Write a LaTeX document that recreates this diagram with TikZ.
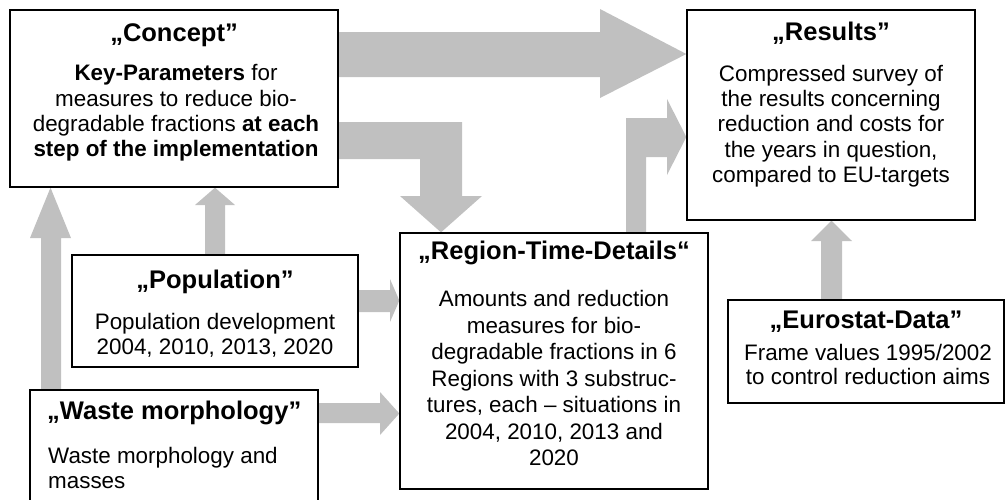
\documentclass[tikz,border=0pt]{standalone}
\usepackage{fontspec}
\setmainfont{Liberation Sans}
\usetikzlibrary{backgrounds}
\definecolor{arrowgrey}{HTML}{C0C0C0}
\begin{document}
\begin{tikzpicture}[x=1pt,y=-1pt,
  box/.style={draw=black, line width=1.3pt, fill=white, inner sep=0pt},
  blockarrow/.style={fill=arrowgrey},
  ttl/.style={font=\fontsize{25.5}{27}\selectfont\bfseries, inner sep=0pt},
  bodytext/.style={font=\fontsize{22.4}{25.3}\selectfont, align=center, inner sep=0pt}]
\useasboundingbox (0,0) rectangle (1006,499);
\clip (0,0) rectangle (1006,499);
% boxes
\node[box, minimum width=328pt, minimum height=177pt] (concept) at (174,98.5) {};
\node[box, minimum width=288pt, minimum height=210pt] (results) at (831,115) {};
\node[box, minimum width=286pt, minimum height=112pt] (population) at (215,311) {};
\node[box, minimum width=308pt, minimum height=256pt] (region) at (554,361) {};
\node[box, minimum width=276pt, minimum height=103pt] (eurostat) at (866,351.5) {};
\node[box, minimum width=288pt, minimum height=130pt] (waste) at (174,455) {};
% texts
\node[ttl] (conceptT) at (174,35) {„Concept”};
\node[bodytext] (conceptB) at (176,113) {\textbf{Key-Parameters} for\\measures to reduce bio-\\degradable fractions \textbf{at each}\\\textbf{step of the implementation}};
\node[ttl] (resultsT) at (831,33) {„Results”};
\node[bodytext] (resultsB) at (831,126) {Compressed survey of\\the results concerning\\reduction and costs for\\the years in question,\\compared to EU-targets};
\node[ttl] (populationT) at (215,282) {„Population”};
\node[bodytext] (populationB) at (215,335) {Population development\\2004, 2010, 2013, 2020};
\node[ttl] (regionT) at (554,253) {„Region-Time-Details“};
\node[bodytext, font=\fontsize{22.4}{26.5}\selectfont] (regionB) at (554,378) {Amounts and reduction\\measures for bio-\\degradable fractions in 6\\Regions with 3 substruc-\\tures, each – situations in\\2004, 2010, 2013 and\\2020};
\node[ttl] (eurostatT) at (866,322) {„Eurostat-Data”};
\node[bodytext, font=\fontsize{22.4}{24}\selectfont] (eurostatB) at (868,364) {Frame values 1995/2002\\to control reduction aims};
\node[ttl, anchor=west] (wasteT) at (47,413) {„Waste morphology”};
\node[bodytext, align=left, anchor=west] (wasteB) at (48,468) {Waste morphology and\\masses};
% block arrows
\begin{scope}[on background layer]
\fill[blockarrow] (concept.east |- 0,32) -- (600,32) -- (600,9) -- (results.west |- 0,54) -- (600,98) -- (600,77) -- (concept.east |- 0,77) -- cycle;
\fill[blockarrow] (concept.east |- 0,122) -- (462,122) -- (462,196) -- (482,196) -- (441,0 |- region.north) -- (400,196) -- (420,196) -- (420,159) -- (concept.east |- 0,159) -- cycle;
\fill[blockarrow] (626,0 |- region.north) -- (626,118) -- (667,118) -- (667,99) -- (results.west |- 0,137) -- (667,175) -- (667,157) -- (646,157) -- (646,0 |- region.north) -- cycle;
\fill[blockarrow] (205,0 |- population.north) -- (205,205) -- (195,205) -- (215,0 |- concept.south) -- (235,205) -- (225,205) -- (225,0 |- population.north) -- cycle;
\fill[blockarrow] (41,0 |- waste.north) -- (41,238) -- (30,238) -- (50.5,0 |- concept.south) -- (71,238) -- (61,238) -- (61,0 |- waste.north) -- cycle;
\fill[blockarrow] (population.east |- 0,290) -- (390,290) -- (390,279) -- (region.west |- 0,300.5) -- (390,322) -- (390,312) -- (population.east |- 0,312) -- cycle;
\fill[blockarrow] (waste.east |- 0,403) -- (380,403) -- (380,392) -- (region.west |- 0,413.5) -- (380,435) -- (380,423) -- (waste.east |- 0,423) -- cycle;
\fill[blockarrow] (821,0 |- eurostat.north) -- (821,241) -- (811,241) -- (831.5,0 |- results.south) -- (852,241) -- (842,241) -- (842,0 |- eurostat.north) -- cycle;
\end{scope}
\end{tikzpicture}
\end{document}
